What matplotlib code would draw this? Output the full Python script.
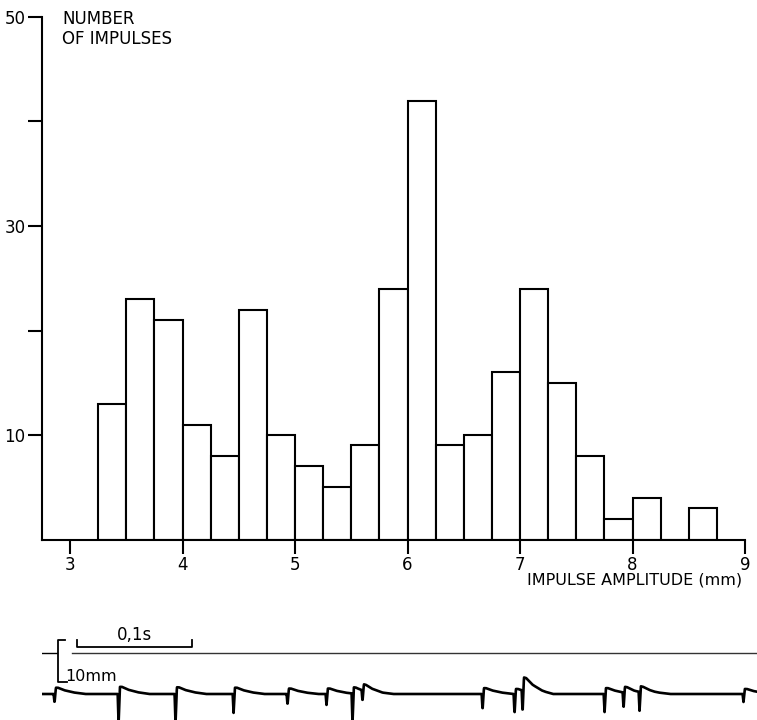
import numpy as np
import matplotlib
matplotlib.use('Agg')
import matplotlib.pyplot as plt

# histogram: left edge of each 0.25 mm bin and count
bin_left = [3.25, 3.5, 3.75, 4.0, 4.25, 4.5, 4.75, 5.0, 5.25, 5.5, 5.75,
            6.0, 6.25, 6.5, 6.75, 7.0, 7.25, 7.5, 7.75, 8.0, 8.25, 8.5]
counts = [13, 23, 21, 11, 8, 22, 10, 7, 5, 9, 24,
          42, 9, 10, 16, 24, 15, 8, 2, 4, 0, 3]
bin_w = 0.25
xticks = [3, 4, 5, 6, 7, 8, 9]
yticks = [10, 20, 30, 40, 50]
ylabels = ['10', '', '30', '', '50']

# recording below: impulse times (s), downward size (mm), overshoot (mm)
spike_t = [0.0113, 0.0670, 0.1165, 0.1670, 0.2139, 0.2478, 0.2704, 0.2791,
           0.3835, 0.4113, 0.4183, 0.4896, 0.5061, 0.5200, 0.6104]
spike_d = [2.1, 7.0, 7.0, 4.5, 2.6, 2.6, 7.0, 2.6,
           3.8, 4.8, 5.2, 4.3, 3.8, 4.5, 1.9]
spike_p = [1.5, 1.7, 1.6, 1.5, 1.3, 1.3, 1.5, 1.5,
           1.4, 1.2, 3.2, 1.4, 1.4, 1.4, 1.2]

W, H = 757, 720
fig = plt.figure(figsize=(W / 100, H / 100), dpi=100)
plt.rcParams['font.family'] = ['DejaVu Sans']

ax = fig.add_axes([42 / W, 1 - 539.5 / H, (745 - 42) / W, (539.5 - 17) / H])
ax.bar(bin_left, counts, width=bin_w, align='edge', facecolor='white',
       edgecolor='black', linewidth=1.5)
ax.set_xlim(2.75, 9)
ax.set_ylim(0, 50)
ax.set_xticks(xticks)
ax.set_yticks(yticks)
ax.set_yticklabels(ylabels)
for s in ['top', 'right']:
    ax.spines[s].set_visible(False)
for s in ['left', 'bottom']:
    ax.spines[s].set_linewidth(1.5)
ax.tick_params(direction='out', length=10, width=1.5, labelsize=12, pad=2)
ax.spines['left'].set_bounds(0, 50)

fig.text(62 / W, 1 - 10 / H, 'NUMBER\nOF IMPULSES', fontsize=12,
         va='top', ha='left', linespacing=1.15)
fig.text(742 / W, 1 - 580 / H, 'IMPULSE AMPLITUDE (mm)', fontsize=11.5,
         va='center', ha='right')

# trace axes: x in s, y in mm (4.2 px per mm, baseline at y=694 px)
px_mm = 4.2
bx = fig.add_axes([42 / W, 0, (757 - 42) / W, 100 / H])
bx.set_xlim(0, (757 - 42) / 1150)
bx.set_ylim((694 - 720) / px_mm, (694 - 620) / px_mm)
bx.axis('off')

t = np.arange(0, 0.622, 0.0002)
y = np.zeros_like(t)
for ti, d, p in zip(spike_t, spike_d, spike_p):
    dt = [-0.0012, -0.0004, 0.0008, 0.0025, 0.008, 0.016, 0.026]
    v = [0, -d, p, p, 0.6 * p, 0.25 * p, 0]
    y += np.interp(t - ti, dt, v, left=0, right=0)
bx.plot(t, y, color='black', lw=1.9)

ref = (694 - 653) / px_mm
bx.plot([0, 0.013], [ref, ref], color='black', lw=1)
bx.plot([0.026, 0.622], [ref, ref], color='#333333', lw=1)
# 10 mm bracket
top = (694 - 640) / px_mm
bot = top - 10
bx.plot([0.0200, 0.0139, 0.0139, 0.0220], [top, top, bot, bot], color='black', lw=1.3)
bx.text(0.0205, bot + 1.2, '10mm', fontsize=11.5, va='center', ha='left')
# 0.1 s bar
yb = (694 - 647) / px_mm
bx.plot([0.0304, 0.0304, 0.1304, 0.1304], [top, yb, yb, top], color='black', lw=1.3)
bx.text(0.0804, yb + 0.6, '0,1s', fontsize=12, va='bottom', ha='center')

fig.savefig('out.png', dpi=100)
